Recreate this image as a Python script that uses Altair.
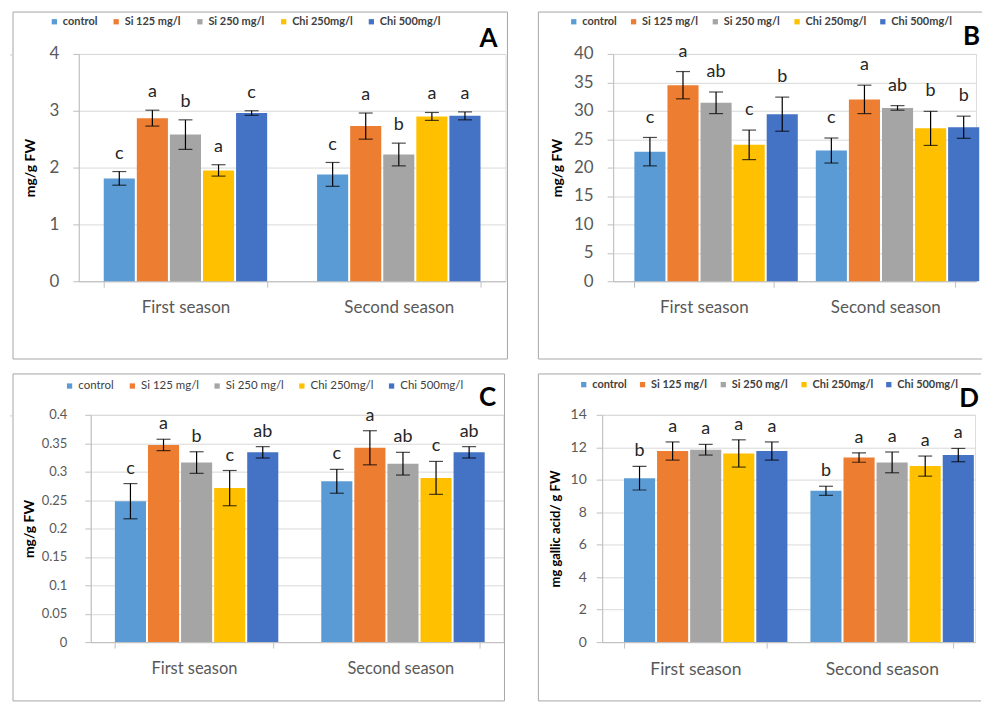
import altair as alt
import pandas as pd

FONT = "Lato"
treatments = ["control", "Si 125 mg/l", "Si 250 mg/l", "Chi 250mg/l", "Chi 500mg/l"]
colors = ["#5B9BD5", "#ED7D31", "#A5A5A5", "#FFC000", "#4472C4"]
seasons = ["First season", "Second season"]

# Panel A
a_first = [1.81, 2.87, 2.58, 1.95, 2.96]
a_first_err = [0.12, 0.14, 0.26, 0.10, 0.04]
a_first_let = ["c", "a", "b", "a", "c"]
a_second = [1.88, 2.73, 2.23, 2.90, 2.91]
a_second_err = [0.21, 0.23, 0.20, 0.07, 0.07]
a_second_let = ["c", "a", "b", "a", "a"]

# Panel B
b_first = [22.8, 34.5, 31.4, 24.0, 29.4]
b_first_err = [2.5, 2.4, 1.9, 2.6, 3.0]
b_first_let = ["c", "a", "ab", "c", "b"]
b_second = [23.0, 32.0, 30.5, 26.9, 27.1]
b_second_err = [2.2, 2.5, 0.4, 3.0, 1.95]
b_second_let = ["c", "a", "ab", "b", "b"]

# Panel C
c_first = [0.248, 0.347, 0.316, 0.271, 0.334]
c_first_err = [0.031, 0.010, 0.019, 0.031, 0.010]
c_first_let = ["c", "a", "b", "c", "ab"]
c_second = [0.283, 0.342, 0.314, 0.289, 0.334]
c_second_err = [0.021, 0.030, 0.020, 0.029, 0.010]
c_second_let = ["c", "a", "ab", "c", "ab"]

# Panel D
d_first = [10.1, 11.77, 11.85, 11.62, 11.77]
d_first_err = [0.73, 0.56, 0.33, 0.84, 0.56]
d_first_let = ["b", "a", "a", "a", "a"]
d_second = [9.32, 11.37, 11.07, 10.84, 11.52]
d_second_err = [0.28, 0.29, 0.64, 0.62, 0.41]
d_second_let = ["b", "a", "a", "a", "a"]

a_ticks = [0, 1, 2, 3, 4]
b_ticks = [0, 5, 10, 15, 20, 25, 30, 35, 40]
c_ticks = [0, 0.05, 0.1, 0.15, 0.2, 0.25, 0.3, 0.35, 0.4]
d_ticks = [0, 2, 4, 6, 8, 10, 12, 14]


def make_df(first, first_err, first_let, second, second_err, second_let):
    rows = []
    for s, vals, errs, lets in ((seasons[0], first, first_err, first_let),
                                (seasons[1], second, second_err, second_let)):
        for t, v, e, l in zip(treatments, vals, errs, lets):
            rows.append({"season": s, "treatment": t, "value": v,
                         "lo": v - e, "hi": v + e, "letter": l})
    return pd.DataFrame(rows)


AXC = "#bfbfbf"
FRAME = "#a6a6a6"
ONE = pd.DataFrame({"k": [0]})


def panel(df, p):
    w, h = p["w"], p["h"]
    yt = p["ytitle"]
    x = alt.X("season:N", sort=seasons, title=None,
              scale=alt.Scale(paddingInner=0.234, paddingOuter=0.117),
              axis=alt.Axis(labelAngle=0, tickBand="extent", domainColor=AXC,
                            tickColor=AXC, tickSize=6, labelFontSize=p["xfs"],
                            labelColor="#595959", labelFont=FONT,
                            labelPadding=p["xpad"], grid=False))
    xo = alt.XOffset("treatment:N", sort=treatments,
                     scale=alt.Scale(paddingInner=0.06))
    yscale = alt.Scale(domain=[0, p["ymax"]], nice=False)
    yaxis = alt.Axis(values=p["ticks"], format="~g", grid=True, tickCount=len(p["ticks"]),
                     gridColor="#d9d9d9", domainColor=AXC, tickColor=AXC,
                     tickSize=6, labelFontSize=p["yfs"], labelColor="#595959",
                     labelFont=FONT, labelPadding=p["ypad"], titleFont=FONT,
                     titleFontSize=p["tfs"], titleFontWeight="bold",
                     titleColor="#000000", titleX=p["tx"], titleY=h / 2,
                     titleAlign="center", titleBaseline="middle")

    def Y(field):
        return alt.Y(field, title=yt, scale=yscale, axis=yaxis)

    color = alt.Color("treatment:N", sort=treatments,
                      scale=alt.Scale(domain=treatments, range=colors),
                      legend=alt.Legend(title=None, orient="none", legendX=p["lx"],
                                        legendY=p["ly"], direction="horizontal",
                                        symbolType="square", symbolSize=28,
                                        symbolStrokeWidth=0, labelFont=FONT,
                                        labelFontSize=p["lfs"],
                                        labelFontWeight=p["lfw"],
                                        labelColor="#404040",
                                        columnPadding=p["lcp"], labelOffset=3,
                                        padding=0))
    base = alt.Chart(df)
    bars = base.mark_bar().encode(x=x, xOffset=xo, y=Y("value:Q"), color=color)
    err = base.mark_rule(color="black", strokeWidth=1.2).encode(
        x=x, xOffset=xo, y=Y("lo:Q"), y2="hi:Q")
    cap_hi = base.mark_tick(color="black", thickness=1.2, size=14).encode(
        x=x, xOffset=xo, y=Y("hi:Q"))
    cap_lo = base.mark_tick(color="black", thickness=1.2, size=14).encode(
        x=x, xOffset=xo, y=Y("lo:Q"))
    letters = base.mark_text(baseline="bottom", dy=p["ldy"], fontSize=p["letfs"],
                             font=FONT, color="#262626").encode(
        x=x, xOffset=xo, y=Y("hi:Q"), text="letter:N")

    x1, x2 = p["bx1"], w + p["bx2"]
    y1, y2 = p["by1"], h + p["by2"]
    edges = [
        alt.Chart(ONE).mark_rule(color=FRAME, strokeWidth=1).encode(
            x=alt.value(x1), x2=alt.value(x2), y=alt.value(y1)),
        alt.Chart(ONE).mark_rule(color=FRAME, strokeWidth=1).encode(
            x=alt.value(x1), x2=alt.value(x2), y=alt.value(y2)),
        alt.Chart(ONE).mark_rule(color=FRAME, strokeWidth=1).encode(
            x=alt.value(x1), y=alt.value(y1), y2=alt.value(y2)),
    ]
    if p["right_edge"]:
        edges.append(alt.Chart(ONE).mark_rule(color=FRAME, strokeWidth=1).encode(
            x=alt.value(x2), y=alt.value(y1), y2=alt.value(y2)))
    tag = alt.Chart(pd.DataFrame({"t": [p["letter"]]})).mark_text(
        fontSize=26, fontWeight="bold", font=FONT, align=p["tagalign"],
        baseline="alphabetic", color="black").encode(
        x=alt.value(p["tagx"]), y=alt.value(p["tagy"]), text="t:N")
    return alt.layer(*edges, bars, err, cap_hi, cap_lo, letters, tag).properties(
        width=w, height=h)


def spacer():
    return alt.Chart(ONE).mark_rect(opacity=0).encode(
        x=alt.value(0), x2=alt.value(1), y=alt.value(0), y2=alt.value(1)
    ).properties(width=1, height=1)


pA = dict(w=428, h=228, ytitle="mg/g FW", ymax=4, ticks=a_ticks, xfs=17, xpad=12,
          yfs=17, ypad=14, tfs=14, tx=-48, lx=-30, ly=-38, lfs=11, lfw="bold",
          lcp=13, letfs=18, ldy=-9, bx1=-66, bx2=2, by1=-42, by2=78, letter="A",
          tagx=411, tagy=-7, tagalign="center", right_edge=True)
pB = dict(w=364, h=228, ytitle="mg/g FW", ymax=40, ticks=b_ticks, xfs=17, xpad=12,
          yfs=17, ypad=14, tfs=14, tx=-56, lx=-45, ly=-38, lfs=11, lfw="bold",
          lcp=11, letfs=18, ldy=-11, bx1=-75, bx2=6, by1=-42, by2=78, letter="B",
          tagx=368, tagy=-9, tagalign="right", right_edge=False)
pC = dict(w=414, h=228, ytitle="mg/g FW", ymax=0.4, ticks=c_ticks, xfs=16.5, xpad=12,
          yfs=13, ypad=18, tfs=14, tx=-61, lx=-27, ly=-35, lfs=11.5, lfw="normal",
          lcp=12, letfs=18, ldy=-6, bx1=-78, bx2=1, by1=-41, by2=59, letter="C",
          tagx=398, tagy=-9, tagalign="center", right_edge=True)
pD = dict(w=374, h=228, ytitle="mg gallic acid/ g FW", ymax=14, ticks=d_ticks,
          xfs=17.5, xpad=12, yfs=14, ypad=10, tfs=13, tx=-47, lx=-24, ly=-36,
          lfs=11, lfw="bold", lcp=10, letfs=18, ldy=-6, bx1=-64, bx2=6, by1=-41,
          by2=59, letter="D", tagx=378, tagy=-8, tagalign="right", right_edge=False)

A = panel(make_df(a_first, a_first_err, a_first_let, a_second, a_second_err, a_second_let), pA)
B = panel(make_df(b_first, b_first_err, b_first_let, b_second, b_second_err, b_second_let), pB)
C = panel(make_df(c_first, c_first_err, c_first_let, c_second, c_second_err, c_second_let), pC)
D = panel(make_df(d_first, d_first_err, d_first_let, d_second, d_second_err, d_second_let), pD)

pair1 = alt.hconcat(A, B, spacing=29).resolve_scale(color="independent")
pair2 = alt.hconcat(C, D, spacing=32).resolve_scale(color="independent")
row1 = alt.hconcat(spacer(), pair1, spacing=0).resolve_scale(color="independent")
row2 = alt.hconcat(spacer(), pair2, spacing=0).resolve_scale(color="independent")

chart = alt.vconcat(row1, row2, spacing=13).resolve_scale(
    color="independent").properties(
    padding={"left": 1, "top": 2, "right": 0, "bottom": 0},
    background="white").configure_view(stroke="transparent").configure(font=FONT)

chart.save("out.html", embed_options={"renderer": "svg", "actions": False})
